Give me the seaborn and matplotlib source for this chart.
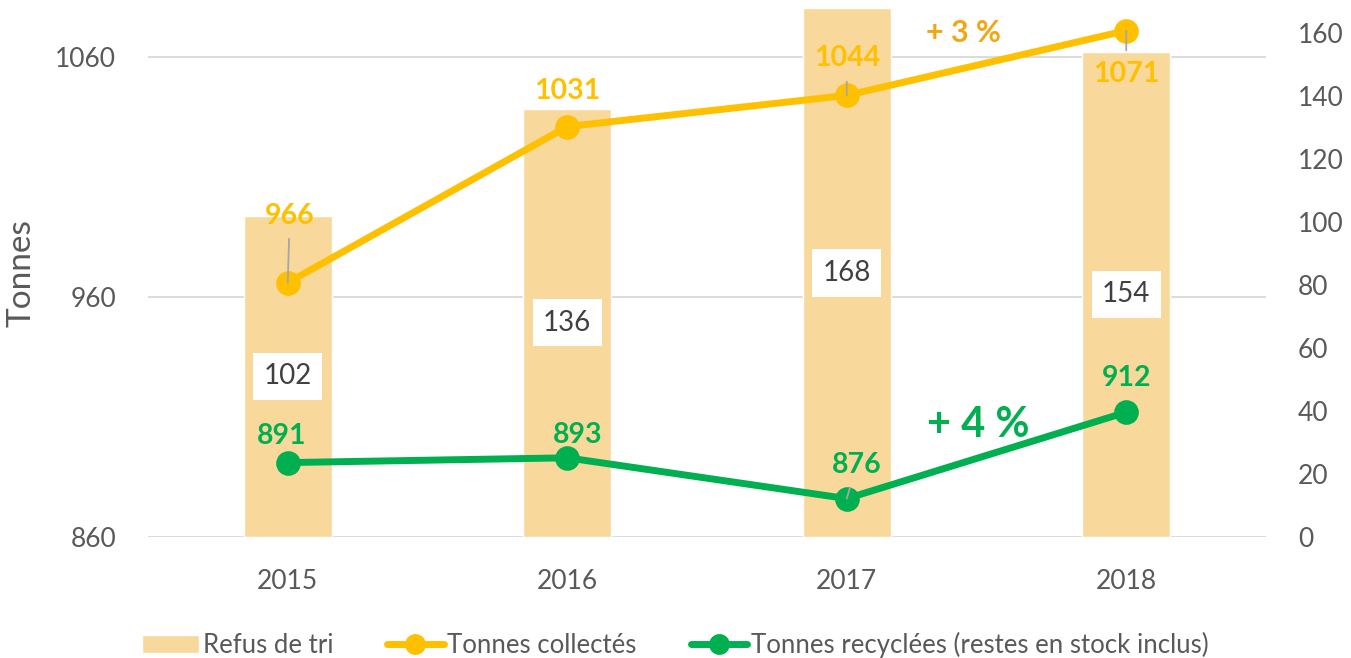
import matplotlib
matplotlib.use('Agg')
import matplotlib.pyplot as plt
from matplotlib.patches import Patch
from matplotlib.lines import Line2D
import seaborn as sns

# Données.
annees = ['2015', '2016', '2017', '2018']
refus_tri = [102, 136, 168, 154]
tonnes_collectees = [966, 1031, 1044, 1071]
tonnes_recyclees = [891, 893, 876, 912]

ticks_gauche = [860, 960, 1060]
ticks_droite = [0, 20, 40, 60, 80, 100, 120, 140, 160]

# Couleurs.
JAUNE = '#FFC000'
JAUNE_CLAIR = '#F9D99B'
ORANGE = '#F2A60F'
VERT = '#00B050'
GRIS_TEXTE = '#595959'
GRIS_GRILLE = '#D9D9D9'

sns.set_theme(style='white')
plt.rcParams['font.family'] = ['Lato', 'DejaVu Sans']

Figure = plt.figure(figsize=(13.51, 6.58), dpi=100)
Graphique = Figure.add_axes([148 / 1351, 1 - 537 / 658, 1118 / 1351, 528 / 658])
Graphique_Barres = Graphique.twinx()

# Les lignes passent au-dessus des barres.
Graphique.set_zorder(Graphique_Barres.get_zorder() + 1)
Graphique.patch.set_visible(False)

# Barres (axe de droite).
sns.barplot(x=annees, y=refus_tri, ax=Graphique_Barres, color=JAUNE_CLAIR,
            width=0.315, saturation=1)

# Grille de l'axe gauche, dessinée derrière les barres.
Graphique_Barres.hlines(ticks_gauche, -0.5, 3.5, transform=Graphique.transData,
                        color=GRIS_GRILLE, lw=1.3, zorder=0)

# Valeurs des barres dans des cases blanches.
Graphique_Barres.bar_label(Graphique_Barres.containers[0],
                           labels=[str(v) for v in refus_tri],
                           label_type='center', fontsize=20, color='#404040',
                           bbox=dict(boxstyle='square,pad=0.38', fc='white', ec='none'))

# Lignes (axe de gauche).
sns.pointplot(x=annees, y=tonnes_collectees, ax=Graphique, color=JAUNE,
              markers='o', linestyles='-', errorbar=None,
              linewidth=5, markersize=14)
sns.pointplot(x=annees, y=tonnes_recyclees, ax=Graphique, color=VERT,
              markers='o', linestyles='-', errorbar=None,
              linewidth=5, markersize=14)

# Étiquettes des points.
decalages_collectes = [(2, 67), (0, 36), (0, 37), (0, -43)]
traits_collectes = [True, False, True, True]
decalages_recyclees = [(-6, 27), (10, 23), (10, 34), (0, 34)]
traits_recyclees = [False, False, True, False]

def Etiqueter(valeurs, decalages, traits, couleur):
    for i, (v, (dx, dy), trait) in enumerate(zip(valeurs, decalages, traits)):
        fleche = dict(arrowstyle='-', color='#A6A6A6', lw=1.3, shrinkA=5, shrinkB=0) if trait else None
        Graphique.annotate(str(v), xy=(i, v), xytext=(dx, dy), textcoords='offset pixels',
                           ha='center', va='center', fontsize=20.5, fontweight='bold',
                           color=couleur, arrowprops=fleche)

Etiqueter(tonnes_collectees, decalages_collectes, traits_collectes, JAUNE)
Etiqueter(tonnes_recyclees, decalages_recyclees, traits_recyclees, VERT)

# Évolutions.
Graphique.text(2.418, 1070, '+ 3 %', ha='center', va='center', fontsize=22,
               fontweight='bold', color=ORANGE)
Graphique.text(2.471, 906.7, '+ 4 %', ha='center', va='center', fontsize=30,
               fontweight='bold', color=VERT)

# Axes.
Graphique.set_xlim(-0.5, 3.5)
Graphique.set_ylim(860, 1080)
Graphique.set_yticks(ticks_gauche)
Graphique_Barres.set_ylim(0, 167.6)
Graphique_Barres.set_yticks(ticks_droite)

for Axe in (Graphique, Graphique_Barres):
    Axe.grid(False)
    Axe.set_xlabel('')
    Axe.set_ylabel('')
    for s in Axe.spines.values():
        s.set_visible(False)
    Axe.tick_params(axis='both', length=0, labelsize=19, labelcolor=GRIS_TEXTE)
    Axe.tick_params(axis='y', pad=23)
Graphique.tick_params(axis='x', pad=23)

Graphique.set_ylabel('Tonnes', fontsize=24, color=GRIS_TEXTE)
Graphique.yaxis.set_label_coords(-0.1, 0.5)

# Légende.
Elements = [
    Patch(facecolor=JAUNE_CLAIR, label='Refus de tri'),
    Line2D([0], [0], color=JAUNE, lw=5, marker='o', ms=14, label='Tonnes collectés'),
    Line2D([0], [0], color=VERT, lw=5, marker='o', ms=14,
           label='Tonnes recyclées (restes en stock inclus)'),
]
Figure.legend(handles=Elements, loc='center', bbox_to_anchor=(0.5, 1 - 645 / 658),
              ncol=3, frameon=False, fontsize=18.5, labelcolor=GRIS_TEXTE,
              handlelength=2.2, handleheight=0.65, handletextpad=0.15, columnspacing=2.1)

Figure.savefig('out.png', dpi=100)
